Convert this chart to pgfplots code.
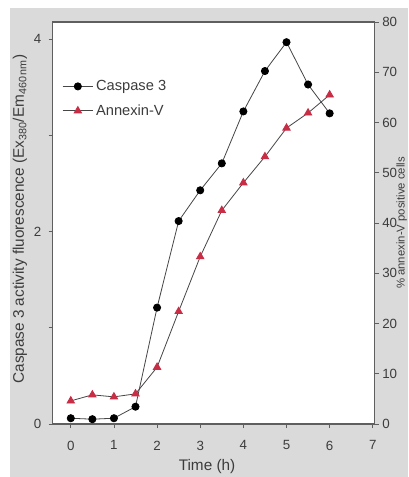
\documentclass[border=0pt]{standalone}
\usepackage{pgfplots}
\pgfplotsset{compat=1.18}
\usepackage{fontspec}
\setmainfont{Liberation Sans}
\definecolor{bg}{RGB}{218,218,218}
\definecolor{axcol}{RGB}{95,95,95}
\definecolor{txt}{RGB}{60,60,60}
\definecolor{lncol}{RGB}{70,70,70}
\definecolor{trired}{RGB}{200,45,70}
\pgfplotstableread{
t c
0 0.06
0.5 0.05
1 0.06
1.5 0.18
2 1.21
2.5 2.11
3 2.43
3.5 2.71
4 3.25
4.5 3.67
5 3.97
5.5 3.53
6 3.23
}\caspase
\pgfplotstableread{
t a
0 4.6
0.5 5.8
1 5.4
1.5 6.0
2 11.3
2.5 22.4
3 33.3
3.5 42.5
4 48.0
4.5 53.2
5 58.9
5.5 61.9
6 65.5
}\annexin
\begin{document}
\begin{tikzpicture}
\fill[bg] (-32pt,-39.75pt) rectangle (266.5pt,312pt);
\pgfplotsset{
  common/.style={
    scale only axis, width=241.7pt, height=301.5pt,
    xmin=-0.42, xmax=7.05, xtick={0,...,7},
    tick align=outside, major tick length=3pt,
    tick style={line width=0.6pt, color=axcol},
    axis line style={line width=0.8pt, color=axcol},
    every tick label/.append style={font=\fontsize{10}{12}\selectfont, text=txt},
    /pgf/number format/assume math mode=true,
    label style={font=\fontsize{11.5}{13}\selectfont, text=txt},
  },
  casp/.style={lncol, line width=0.6pt, mark=*, mark size=2.7pt, mark options={fill=black, draw=black}},
  anx/.style={lncol, line width=0.6pt, mark=triangle*, mark size=3.2pt, mark options={fill=trired, draw=trired}},
}
\begin{axis}[common, at={(0,0)}, anchor=south west,
  axis background/.style={fill=white},
  ymin=0, ymax=4.18, ytick={0,1,2,3,4}, yticklabels={0,,2,,4},
  xtick pos=lower, ytick pos=left,
  xticklabel style={yshift=-6pt},
  yticklabel style={xshift=-2pt},
  xlabel={Time (h)},
  xlabel style={at={(axis description cs:0.479,0)}, anchor=center, yshift=-32pt},
  ylabel={Caspase 3 activity fluorescence (Ex$_{\mathrm{380}}$/Em$_{\mathrm{460\,nm}}$)},
  ylabel style={at={(axis description cs:0,0.51)}, anchor=center, rotate=0, yshift=24.5pt},
]
\addplot[casp] table[x=t, y=c] {\caspase};
\end{axis}
\begin{axis}[common, at={(0,0)}, anchor=south west,
  axis x line=none, axis y line*=right,
  ymin=0, ymax=80, ytick={0,10,...,80},
  yticklabel style={xshift=-1pt},
  ylabel={\% annexin-V positive cells},
  ylabel style={at={(axis description cs:1,0.5)}, anchor=south, rotate=0, yshift=-24.2pt, inner sep=0pt, font=\fontsize{8.5}{10}\selectfont},
  legend style={draw=none, fill=none, at={(axis description cs:0,1)}, anchor=north west,
    xshift=4pt, yshift=-39.5pt, font=\fontsize{11}{13}\selectfont, text=txt, row sep=5pt},
  legend cell align=left,
  legend image code/.code={\draw[mark repeat=2,mark phase=2] plot coordinates {(0cm,0cm)(0.4cm,0cm)(0.8cm,0cm)};},
]
\addlegendimage{casp}
\addlegendentry{Caspase 3}
\addplot[anx] table[x=t, y=a] {\annexin};
\addlegendentry{Annexin-V}
\end{axis}
\pgfresetboundingbox
\useasboundingbox (-39.5pt,-39.75pt) rectangle (266.5pt,318pt);
\end{tikzpicture}
\end{document}
